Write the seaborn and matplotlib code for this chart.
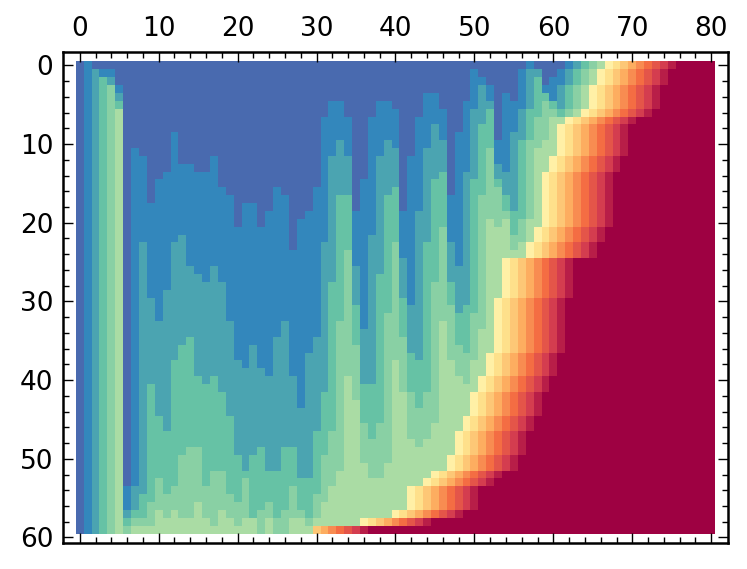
import numpy as np
import pandas as pd
import matplotlib
matplotlib.use("Agg")
import matplotlib.pyplot as plt
import seaborn as sns

# First row at which each of the first 67 columns reaches a given band (60 = never)
reach_blue = [60,0,1,1,1,3,54,11,12,18,15,14,9,13,13,14,14,12,16,17,21,18,18,21,19,16,17,24,20,19,16,7,5,5,7,19,15,7,5,5,6,19,12,7,4,4,6,17,9,5,1,2,3,10,4,5,1,0,1,3,2,1,0,0,0,0,0]
reach_teal = [60,60,1,2,2,4,57,54,23,30,33,29,23,22,26,27,28,26,28,33,38,39,36,39,40,35,33,40,44,37,35,23,12,10,12,26,34,22,12,10,11,25,31,19,11,8,10,23,26,14,6,3,5,13,14,9,6,1,1,4,5,3,1,0,0,0,0]
reach_green = [60,60,60,2,3,5,58,57,55,41,45,47,38,36,35,40,41,40,42,45,50,52,50,49,52,52,49,49,53,53,47,42,28,17,17,31,41,41,27,17,16,30,37,38,23,15,14,28,32,31,15,8,6,15,17,19,10,6,2,4,5,6,3,1,0,0,0]
reach_mint = [60,60,60,60,3,6,59,58,58,56,53,55,54,50,49,49,54,52,52,55,56,53,58,57,56,58,57,54,57,58,55,50,47,33,24,36,46,48,46,32,23,35,42,44,42,28,21,31,36,37,32,17,11,16,19,22,20,10,7,5,6,7,6,3,1,0,0]
reach_pale = [60,60,60,60,60,6,60,59,59,59,57,58,57,58,58,56,58,59,57,58,59,58,58,60,58,60,60,58,58,59,58,56,54,52,40,43,51,53,53,51,38,42,48,49,48,46,33,38,40,41,38,34,20,21,20,24,23,20,11,10,7,7,7,6,3,1,0]

# Column at which the warm ramp begins, for rows 0..58
ramp_start = [67,66,66,65,65,65,64,62,61,61,61,61,60,60,59,59,59,59,59,59,59,58,58,57,57,54,54,54,54,54,53,53,53,53,53,53,53,52,52,52,51,51,50,50,50,49,49,48,48,48,47,47,45,44,42,42,42,40,36]
# Warm ramp of the last row
last_row_ramp = [13,14,15,16,17,18,19]
last_row_first_col = 30

n_rows, n_cols = 60, 81
x_major = list(range(0, 81, 10))
y_major = list(range(0, 61, 10))
x_minor = [v for v in range(0, 81, 2) if v % 10]
y_minor = [v for v in range(0, 61, 2) if v % 10]

levels = np.full((n_rows, n_cols), 20, dtype=float)
for c in range(len(reach_blue)):
    for r in range(n_rows):
        levels[r, c] = 1 + sum(r >= a[c] for a in (reach_blue, reach_teal, reach_green, reach_mint, reach_pale))
for r, s in enumerate(ramp_start):
    for c in range(s, n_cols):
        levels[r, c] = min(20, 11 + c - s)
for i, v in enumerate(last_row_ramp):
    levels[59, last_row_first_col + i] = v
levels[59, last_row_first_col + len(last_row_ramp):] = 20
df = pd.DataFrame(levels * 0.05)

fig = plt.figure(figsize=(747 / 200, 569 / 200), dpi=200)
ax = fig.add_axes([63 / 747, 1 - 543 / 569, 665 / 747, 491 / 569])
sns.heatmap(df, ax=ax, cmap="Spectral_r", vmin=0, vmax=1, cbar=False,
            xticklabels=False, yticklabels=False)
ax.set_xlabel("")
ax.set_ylabel("")
ax.set_xlim(-0.02 * n_cols, n_cols * 1.02)
ax.set_ylim(n_rows * 1.02, -0.02 * n_rows)
ax.set_xticks(np.array(x_major) + 0.5, labels=[str(v) for v in x_major])
ax.set_yticks(np.array(y_major) + 0.5, labels=[str(v) for v in y_major], rotation=0)
ax.set_xticks(np.array(x_minor) + 0.5, minor=True)
ax.set_yticks(np.array(y_minor) + 0.5, minor=True)
for s in ax.spines.values():
    s.set_visible(True)
    s.set_linewidth(0.9)
    s.set_color("black")
ax.tick_params(which="both", direction="in", top=True, bottom=True, left=True, right=True,
               labeltop=True, labelbottom=False, labelleft=True, labelright=False, color="black")
ax.tick_params(which="major", length=3.6, width=0.5, labelsize=9.5, pad=3.5)
ax.tick_params(which="minor", length=2, width=0.5)
fig.savefig("out.png", dpi=200)
